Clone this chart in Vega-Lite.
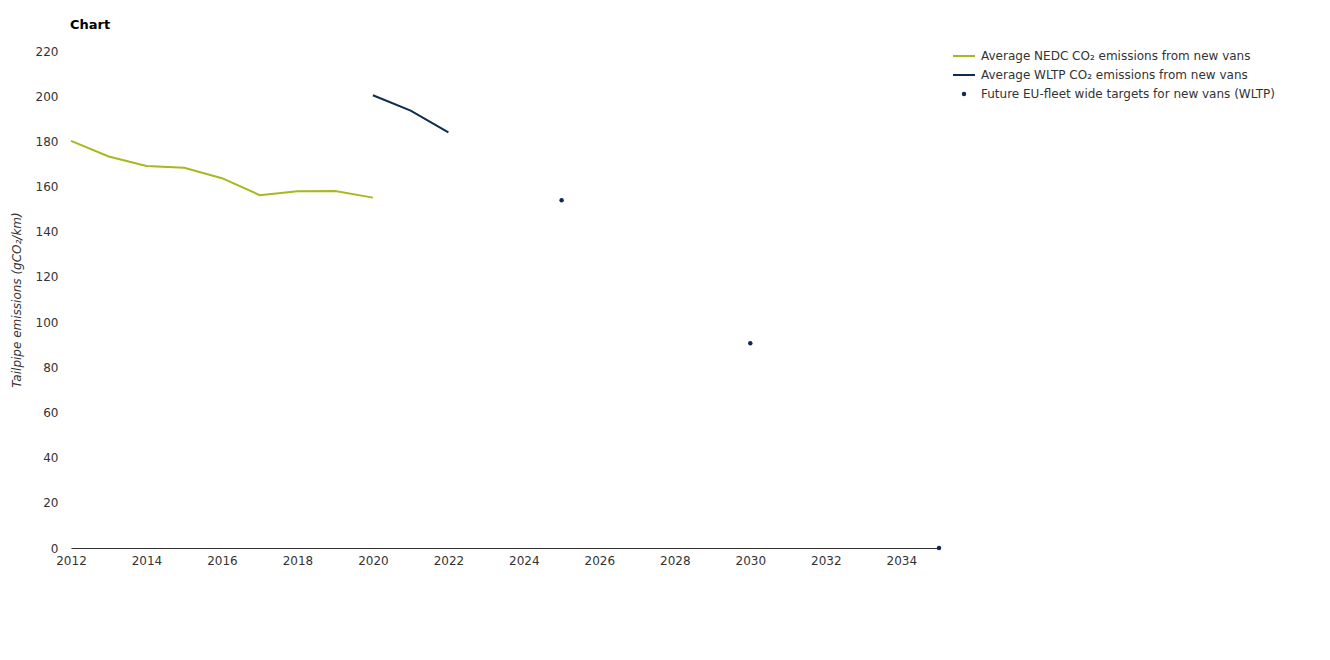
{
  "$schema": "https://vega.github.io/schema/vega-lite/v6.json",
  "autosize": {"type": "none"},
  "width": 868,
  "height": 497,
  "padding": {"left": 71, "top": 51, "right": 391, "bottom": 112},
  "background": "white",
  "config": {
    "font": "DejaVu Sans",
    "view": {"stroke": null},
    "axis": {"labelFont": "DejaVu Sans", "titleFont": "DejaVu Sans", "labelFontSize": 12, "labelColor": "#333333", "grid": false}
  },
  "title": {"text": "Chart", "anchor": "start", "frame": "group", "fontSize": 13, "fontWeight": "bold", "color": "#000000", "offset": 13, "dx": -1},
  "data": {
    "values": [
      {"year": 2012, "value": 180.2, "series": "Average NEDC CO₂ emissions from new vans"},
      {"year": 2013, "value": 173.3, "series": "Average NEDC CO₂ emissions from new vans"},
      {"year": 2014, "value": 169.1, "series": "Average NEDC CO₂ emissions from new vans"},
      {"year": 2015, "value": 168.3, "series": "Average NEDC CO₂ emissions from new vans"},
      {"year": 2016, "value": 163.7, "series": "Average NEDC CO₂ emissions from new vans"},
      {"year": 2017, "value": 156.2, "series": "Average NEDC CO₂ emissions from new vans"},
      {"year": 2018, "value": 157.9, "series": "Average NEDC CO₂ emissions from new vans"},
      {"year": 2019, "value": 158.0, "series": "Average NEDC CO₂ emissions from new vans"},
      {"year": 2020, "value": 155.1, "series": "Average NEDC CO₂ emissions from new vans"},
      {"year": 2020, "value": 200.4, "series": "Average WLTP CO₂ emissions from new vans"},
      {"year": 2021, "value": 193.6, "series": "Average WLTP CO₂ emissions from new vans"},
      {"year": 2022, "value": 184.0, "series": "Average WLTP CO₂ emissions from new vans"},
      {"year": 2025, "value": 153.9, "series": "Future EU-fleet wide targets for new vans (WLTP)"},
      {"year": 2030, "value": 90.6, "series": "Future EU-fleet wide targets for new vans (WLTP)"},
      {"year": 2035, "value": 0, "series": "Future EU-fleet wide targets for new vans (WLTP)"}
    ]
  },
  "encoding": {
    "x": {
      "field": "year", "type": "quantitative",
      "scale": {"domain": [2012, 2035], "nice": false, "zero": false},
      "axis": {"title": null, "values": [2012, 2014, 2016, 2018, 2020, 2022, 2024, 2026, 2028, 2030, 2032, 2034], "format": "d", "ticks": false, "labelPadding": 7, "domainColor": "#333333", "domainWidth": 1, "labelFlush": false}
    },
    "y": {
      "field": "value", "type": "quantitative",
      "scale": {"domain": [0, 220], "nice": false},
      "axis": {"title": "Tailpipe emissions (gCO₂/km)", "titleFontStyle": "italic", "titleFontWeight": "normal", "titleFontSize": 12, "titleColor": "#333333", "values": [0, 20, 40, 60, 80, 100, 120, 140, 160, 180, 200, 220], "domain": false, "ticks": false, "labelPadding": 13, "titlePadding": 12}
    },
    "color": {
      "field": "series", "type": "nominal",
      "scale": {
        "domain": ["Average NEDC CO₂ emissions from new vans", "Average WLTP CO₂ emissions from new vans", "Future EU-fleet wide targets for new vans (WLTP)"],
        "range": ["#a8b820", "#0b2d52", "#0b2d52"]
      },
      "legend": {
        "title": null, "orient": "none", "legendX": 887, "legendY": -1, "padding": 0,
        "labelFontSize": 12, "labelColor": "#333333", "labelFont": "DejaVu Sans", "labelLimit": 0,
        "symbolSize": 484, "symbolStrokeWidth": 2, "rowPadding": 7, "labelOffset": 11,
        "encode": {
          "symbols": {
            "update": {
              "shape": {"signal": "datum.value === 'Future EU-fleet wide targets for new vans (WLTP)' ? 'circle' : 'stroke'"},
              "size": {"signal": "datum.value === 'Future EU-fleet wide targets for new vans (WLTP)' ? 20 : 484"},
              "fill": {"signal": "datum.value === 'Future EU-fleet wide targets for new vans (WLTP)' ? '#0b2d52' : 'transparent'"},
              "stroke": {"signal": "datum.value === 'Average NEDC CO₂ emissions from new vans' ? '#a8b820' : '#0b2d52'"},
              "strokeWidth": {"signal": "datum.value === 'Future EU-fleet wide targets for new vans (WLTP)' ? 0 : 2"}
            }
          }
        }
      }
    }
  },
  "layer": [
    {
      "transform": [{"filter": "datum.series !== 'Future EU-fleet wide targets for new vans (WLTP)'"}],
      "mark": {"type": "line", "strokeWidth": 2}
    },
    {
      "transform": [{"filter": "datum.series === 'Future EU-fleet wide targets for new vans (WLTP)'"}],
      "mark": {"type": "point", "filled": true, "size": 20, "opacity": 1, "clip": false}
    }
  ]
}
